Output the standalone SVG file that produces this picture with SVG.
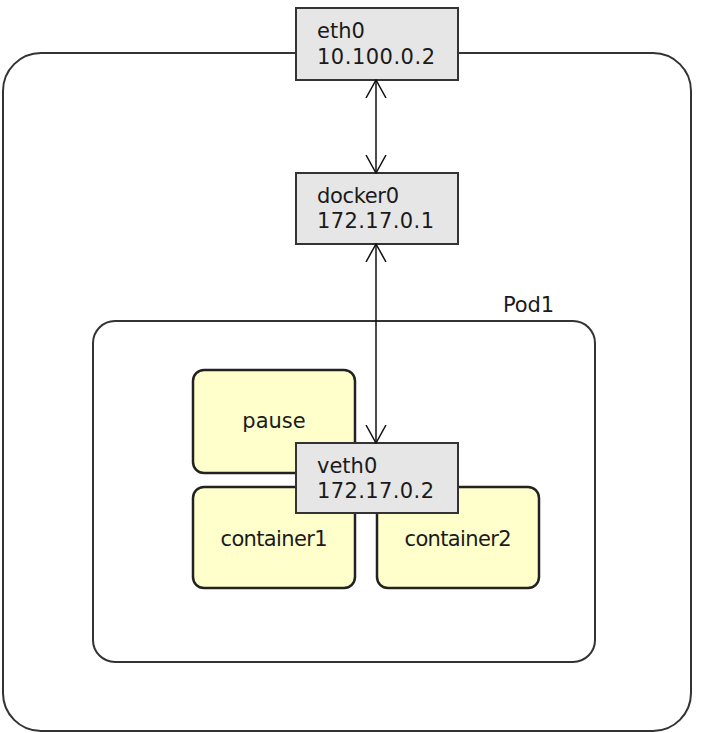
<svg xmlns="http://www.w3.org/2000/svg" width="711" height="733" viewBox="0 0 711 733">
<style>
.frame{fill:#fff;stroke:#333;stroke-width:2}
.iface{fill:#e6e6e6;stroke:#333;stroke-width:2}
.ctr{fill:#ffffcc;stroke:#222;stroke-width:2.5}
.t{font-family:"DejaVu Sans",sans-serif;font-size:21px;fill:#1a1a1a}
.c{text-anchor:middle}
.conn{stroke:#111;stroke-width:1.5;fill:none}
</style>
<defs>
<marker id="open" markerUnits="userSpaceOnUse" viewBox="0 -12 19 24" refX="18" refY="0" markerWidth="19" markerHeight="24" orient="auto-start-reverse">
<path d="M0,-10 L18,0 L0,10" fill="none" stroke="#111" stroke-width="1.5"/>
</marker>
</defs>
<g id="host"><rect class="frame" x="3" y="53" width="688" height="678" rx="38" ry="38"/></g>
<g id="pod1">
<rect class="frame" x="93" y="321" width="502" height="341" rx="22" ry="22"/>
<text class="t" x="503" y="312" textLength="51">Pod1</text>
</g>
<g id="pause"><rect class="ctr" x="193" y="370" width="162" height="103" rx="11" ry="11"/><text class="t c" x="274" y="428">pause</text></g>
<g id="container1"><rect class="ctr" x="193" y="487" width="162" height="101" rx="11" ry="11"/><text class="t c" x="274" y="546" textLength="107">container1</text></g>
<g id="container2"><rect class="ctr" x="377" y="487" width="162" height="101" rx="11" ry="11"/><text class="t c" x="458" y="546" textLength="107">container2</text></g>
<g id="eth0"><rect class="iface" x="296" y="8" width="162" height="72"/><text class="t" x="317" y="38">eth0</text><text class="t" x="317" y="64" textLength="118">10.100.0.2</text></g>
<g id="docker0"><rect class="iface" x="296" y="173" width="162" height="71"/><text class="t" x="317" y="203" textLength="82">docker0</text><text class="t" x="317" y="228" textLength="117">172.17.0.1</text></g>
<g id="veth0"><rect class="iface" x="296" y="443" width="162" height="70"/><text class="t" x="317" y="473">veth0</text><text class="t" x="317" y="498" textLength="117">172.17.0.2</text></g>
<g id="connectors">
<line class="conn" x1="376" y1="80" x2="376" y2="173" marker-start="url(#open)" marker-end="url(#open)"/>
<line class="conn" x1="376" y1="244" x2="376" y2="443" marker-start="url(#open)" marker-end="url(#open)"/>
</g>
</svg>
